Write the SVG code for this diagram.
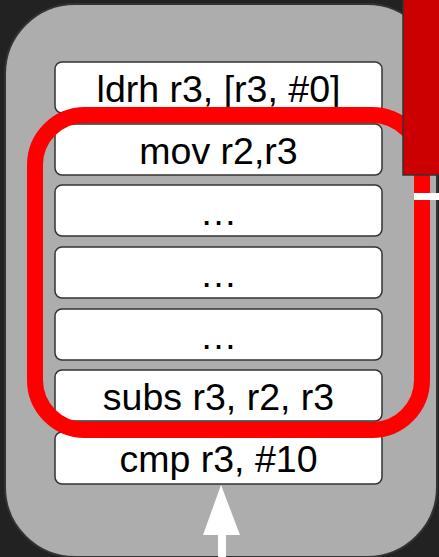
<svg xmlns="http://www.w3.org/2000/svg" width="439" height="557" viewBox="0 0 439 557">
  <style>
    .box { fill: #ffffff; stroke: #333333; stroke-width: 1.5; }
    .lbl { font-family: "Liberation Sans", Arial, sans-serif; font-size: 37.5px; fill: #000000; text-anchor: middle; }
  </style>
  <rect x="0" y="0" width="439" height="557" fill="#222222"/>
  <rect id="panel" x="5" y="4" width="432" height="553" rx="70" ry="70" fill="#adadad" stroke="#333333" stroke-width="2"/>

  <g id="n-ldrh"><rect class="box" x="55" y="62" width="327" height="51" rx="7"/><text class="lbl" x="218.5" y="102">ldrh r3, [r3, #0]</text></g>
  <g id="n-mov"><rect class="box" x="55" y="124" width="327" height="51" rx="7"/><text class="lbl" x="218.5" y="164">mov r2,r3</text></g>
  <g id="n-dots1"><rect class="box" x="55" y="185" width="327" height="51" rx="7"/><text class="lbl" x="218.5" y="225">…</text></g>
  <g id="n-dots2"><rect class="box" x="55" y="247" width="327" height="51" rx="7"/><text class="lbl" x="218.5" y="287">…</text></g>
  <g id="n-dots3"><rect class="box" x="55" y="309" width="327" height="51" rx="7"/><text class="lbl" x="218.5" y="349">…</text></g>
  <g id="n-subs"><rect class="box" x="55" y="370" width="327" height="51" rx="7"/><text class="lbl" x="218.5" y="410">subs r3, r2, r3</text></g>
  <g id="n-cmp"><rect class="box" x="55" y="432" width="327" height="52" rx="7"/><text class="lbl" x="218.5" y="472">cmp r3, #10</text></g>

  <g id="connectors">
    <!-- loop around the body -->
    <rect x="35" y="115" width="387" height="315" rx="50" ry="50" fill="none" stroke="#ff0000" stroke-width="16"/>
    <!-- entry arrow into cmp -->
    <rect x="218" y="534" width="8" height="24" fill="#ffffff"/>
    <polygon points="221,485 203,535 240,535" fill="#ffffff"/>
  </g>

  <g id="marker-block">
    <rect x="403" y="-2" width="40" height="177" fill="#cc0000" stroke="#333333" stroke-width="1.5"/>
    <rect x="414" y="193" width="26" height="7" fill="#ffffff"/>
  </g>
</svg>
